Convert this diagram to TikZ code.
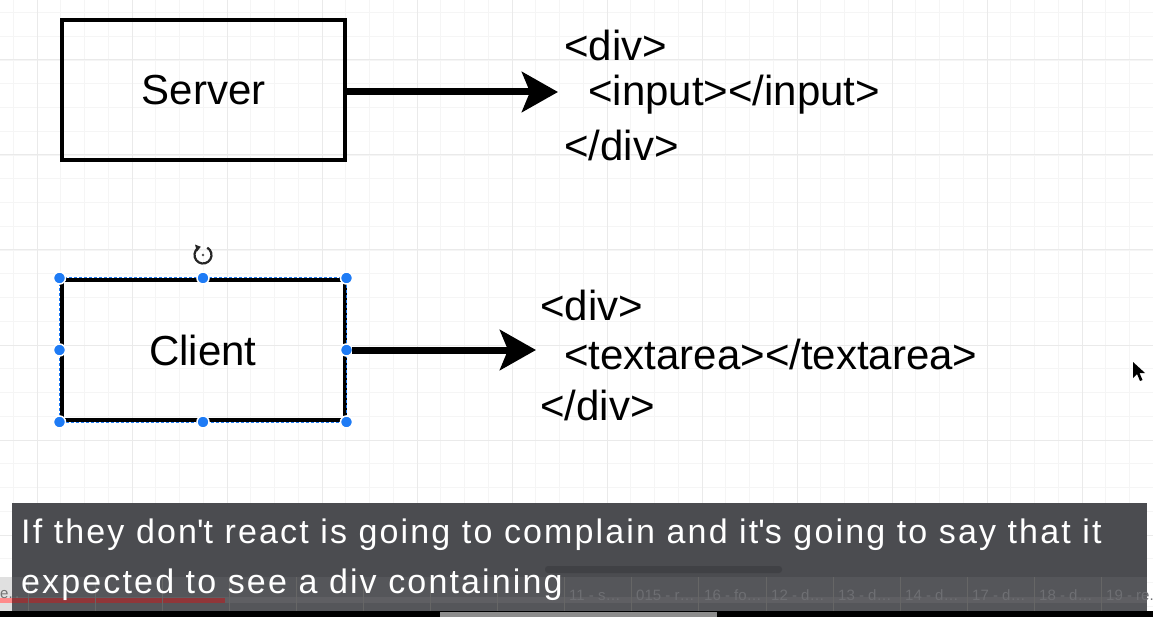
\documentclass[tikz,border=0pt]{standalone}
\usepackage{fontspec}
\setmainfont{Liberation Sans}
\newfontfamily\capfont[LetterSpace=6.3]{Liberation Sans}
\usetikzlibrary{arrows.meta}
\definecolor{gridmaj}{HTML}{EAEAEA}
\definecolor{gridmin}{HTML}{F5F5F5}
\definecolor{handle}{HTML}{1E7BF5}
\definecolor{capbar}{HTML}{4B4C50}
\definecolor{tabrow}{HTML}{55565A}
\definecolor{tabtext}{HTML}{6E6F73}
\definecolor{scroll}{HTML}{404145}

\begin{document}
\begin{tikzpicture}[x=1pt,y=-1pt,
  box/.style={draw=black,line width=4pt,minimum width=283pt,minimum height=140pt,
    font=\fontsize{42}{50}\selectfont,inner sep=0pt},
  code/.style={anchor=west,font=\fontsize{42}{50}\selectfont,inner sep=0pt},
  flow/.style={line width=7pt,-{Stealth[length=36pt,width=40pt,inset=8pt]}},
  knob/.style={circle,fill=handle,draw=white,line width=1.5pt,minimum size=12pt,inner sep=0pt},
  tab/.style={anchor=west,text=tabtext,font=\fontsize{15}{18}\selectfont,inner sep=0pt},
  capline/.style={anchor=base west,text=white,inner sep=0pt,font=\capfont\fontsize{34}{40}\selectfont}]
  \useasboundingbox (0,0) rectangle (1153,617);
  \fill[white] (0,0) rectangle (1153,617);
  % grid
  \foreach \x in {-10.5,13.25,...,1153} \draw[gridmin,line width=0.6pt] (\x,0) -- (\x,617);
  \foreach \y in {-11.25,12.5,...,617} \draw[gridmin,line width=0.6pt] (0,\y) -- (1153,\y);
  \foreach \x in {37,132,...,1153} \draw[gridmaj,line width=1pt] (\x,0) -- (\x,617);
  \foreach \y in {60,155,...,617} \draw[gridmaj,line width=1pt] (0,\y) -- (1153,\y);

  % server side
  \node[box] (server) at (203.5,90) {\raisebox{-4pt}{Server}};
  \node[code] (sdiv) at (564,45) {<div>};
  \node[code] (sinput) at (588,95) {<input></input>};
  \node[code] (sdivend) at (564,145) {</div>};
  \coordinate (stip) at (558,92);
  \draw[flow] (server.east) ++(0,2) -- (stip);

  % client side (selected)
  \node[box] (client) at (203,350) {\raisebox{-3pt}{Client}};
  \draw[handle,line width=1pt,dash pattern=on 3pt off 2pt] (client.north west) rectangle (client.south east);
  \foreach \a in {north west,north,north east,west,east,south west,south,south east}
    \node[knob] at (client.\a) {};
  \coordinate (rot) at (203,255);
  \draw[black!85,line width=2.2pt,-{Triangle[length=5pt,width=7pt]}] (rot) ++(-60:8.5) arc[start angle=-60,end angle=255,radius=8.5];
  \fill[black!70] (rot) circle (1.3pt);
  \node[code] (cdiv) at (540,305) {<div>};
  \node[code] (ctext) at (564,354) {<textarea></textarea>};
  \node[code] (cdivend) at (540,405) {</div>};
  \coordinate (ctip) at (536,350);
  \draw[flow] (client.east) ++(5,0) -- (ctip);

  % mouse pointer
  \fill[black] (1133,362) -- (1133,378) -- (1137,374) -- (1140,381) -- (1142.5,380) -- (1139.5,373) -- (1145,373) -- cycle;

  % caption bar and video player strip
  \fill[black] (0,611) rectangle (1153,617);
  \fill[black!45] (440,612) rectangle (717,617);
  \fill[black!12] (0,577) rectangle (12,611);
  \fill[capbar] (12,503) rectangle (1147,611);
  \fill[tabrow] (12,577) rectangle (1147,611);
  \fill[white,opacity=0.06] (0,597) rectangle (1147,603);
  \fill[red!45] (0,598) rectangle (12,603);
  \fill[red!50!capbar,opacity=0.7] (12,598) rectangle (225,603);
  \fill[scroll,rounded corners=3pt] (545,566) rectangle (782,573);
  \foreach \x in {28,95,162,229,296,363,430,497,564,631,698,766,833,900,967,1034,1101}
    \draw[black!60,line width=0.8pt] (\x,577) -- (\x,611);
  \node[tab,text=black!55] (t0) at (0,595) {e.\,.};
  \foreach \x/\lab in {569/{11 - s\dots},636/{015 - r\dots},704/{16 - fo\dots},771/{12 - d\dots},838/{13 - d\dots},905/{14 - d\dots},972/{17 - d\dots},1039/{18 - d\dots},1106/{19 - re.}}
    \node[tab] at (\x,595) {\lab};
  \node[capline] (cap1) at (21,543) {If they don\textquotesingle t react is going to complain and it\textquotesingle s going to say that it};
  \node[capline] (cap2) at (21,593) {expected to see a div containing};
\end{tikzpicture}
\end{document}
